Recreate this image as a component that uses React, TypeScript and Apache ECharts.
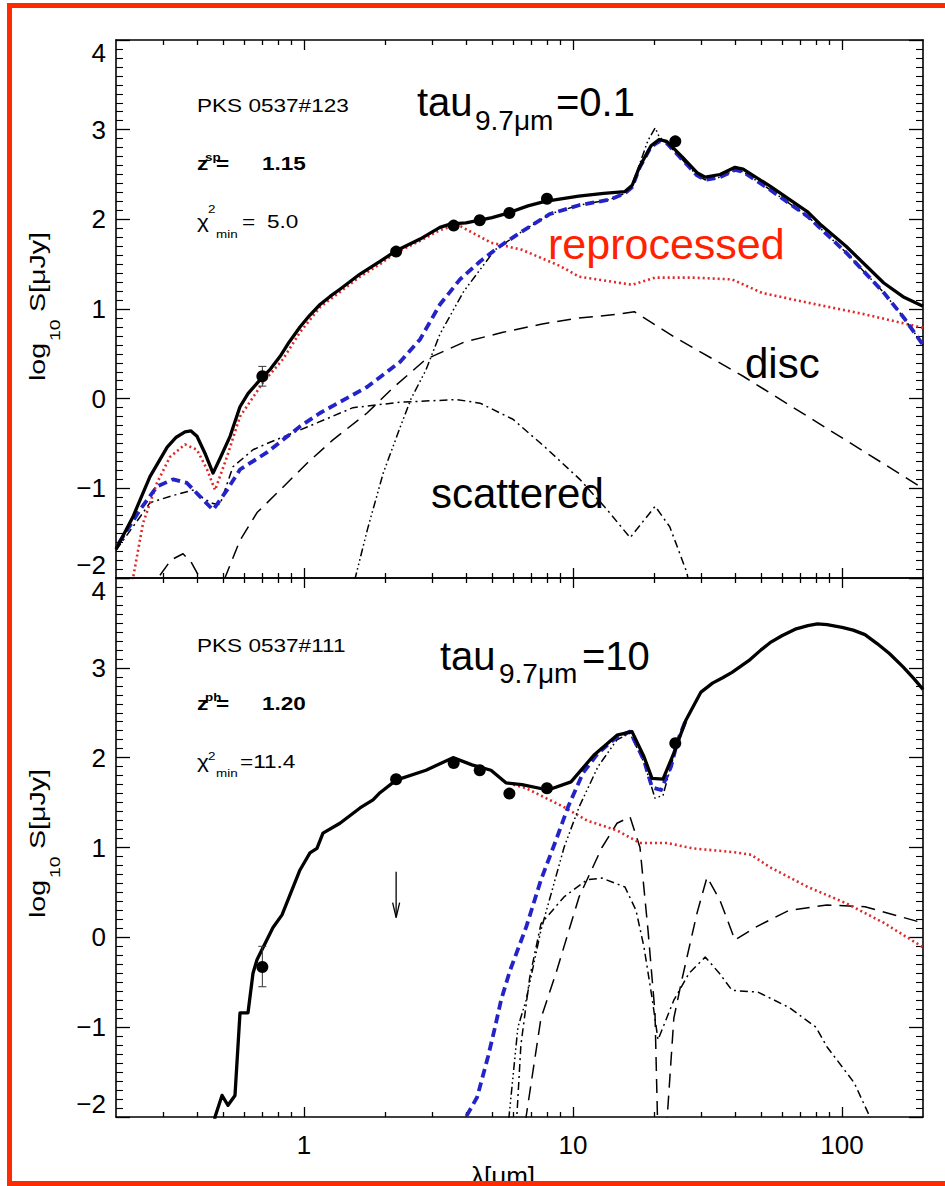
import React, { useEffect, useRef } from 'react';
import * as echarts from 'echarts';

// ---------- axis definitions ----------
const X_MIN = 0.2;
const X_MAX = 200;
const Y_MIN = -2;
const Y_MAX = 4;
const MAJOR_X_TICKS = [1, 10, 100];
const MINOR_X_TICKS = [0.3, 0.4, 0.5, 0.6, 0.7, 0.8, 0.9, 2, 3, 4, 5, 6, 7, 8, 9, 20, 30, 40, 50, 60, 70, 80, 90];

// ---------- upper panel (PKS 0537#123, tau=0.1) ----------
const upperTotal = [
  [0.2, -1.68], [0.231, -1.32], [0.2675, -0.87], [0.31, -0.54], [0.335, -0.43], [0.361, -0.37], [0.38, -0.36],
  [0.40, -0.42], [0.43, -0.62], [0.459, -0.83], [0.49, -0.65], [0.531, -0.42], [0.578, -0.09], [0.62, 0.06],
  [0.686, 0.21], [0.75, 0.33], [0.814, 0.47], [0.88, 0.63], [0.966, 0.8], [1.05, 0.93], [1.147, 1.05],
  [1.25, 1.14], [1.36, 1.22], [1.615, 1.39], [1.916, 1.53], [2.2, 1.65], [2.7, 1.78], [3.2, 1.91], [3.52, 1.95],
  [4.0, 1.96], [4.5, 1.99], [5.0, 2.02], [5.73, 2.07], [6.8, 2.15], [7.87, 2.2], [10.5, 2.26], [13.0, 2.29],
  [15.6, 2.31], [16.6, 2.38], [17.7, 2.59], [19.5, 2.82], [20.9, 2.89], [22.3, 2.87], [25.4, 2.7], [28.9, 2.52],
  [31.0, 2.47], [35.2, 2.5], [40.0, 2.58], [42.9, 2.56], [54.0, 2.37], [74.7, 2.08], [84, 1.93], [103.5, 1.7],
  [143, 1.29], [170, 1.13], [200, 1.03],
];
const upperReprocessed = [
  [0.225, -2.2], [0.252, -1.39], [0.284, -0.94], [0.3175, -0.65], [0.361, -0.51], [0.40, -0.57], [0.436, -0.79],
  [0.467, -1.02], [0.517, -0.65], [0.578, -0.2], [0.704, 0.18], [0.835, 0.44], [0.966, 0.74], [1.147, 1.02],
  [1.36, 1.19], [1.615, 1.36], [1.916, 1.5], [2.2, 1.63], [2.7, 1.76], [3.2, 1.88], [3.52, 1.92], [3.83, 1.92],
  [4.955, 1.74], [6.46, 1.66], [8.95, 1.48], [10.53, 1.36], [16.57, 1.27], [20.2, 1.35], [27.9, 1.35],
  [39.0, 1.33], [50.4, 1.18], [74.7, 1.07], [121.7, 0.94], [200, 0.79],
];
const upperTorus = [
  [0.205, -1.61], [0.2456, -1.24], [0.284, -0.98], [0.326, -0.9], [0.367, -0.94], [0.41, -1.09], [0.459, -1.24],
  [0.517, -1.02], [0.578, -0.79], [0.728, -0.6], [0.966, -0.31], [1.147, -0.16], [1.715, 0.13], [2.274, 0.41],
  [2.698, 0.66], [3.2, 1.05], [3.8, 1.33], [4.51, 1.53], [5.35, 1.7], [6.35, 1.85], [8.21, 2.06], [10.6, 2.16],
  [13.7, 2.22], [15.6, 2.29], [16.6, 2.36], [17.7, 2.58], [19.5, 2.81], [20.9, 2.87], [22.3, 2.85], [25.4, 2.67],
  [28.9, 2.49], [31.0, 2.44], [35.2, 2.47], [40.0, 2.55], [42.9, 2.53], [54.0, 2.33], [74.7, 2.03], [103.5, 1.63],
  [143.2, 1.18], [170, 0.9], [200, 0.6],
];
const upperHotDust = [
  [1.5, -2.3], [1.55, -2.0], [1.72, -1.46], [1.97, -0.83], [2.27, -0.33], [2.5, 0.0], [2.84, 0.32], [3.2, 0.72],
  [3.93, 1.2], [5.13, 1.66], [6.35, 1.85], [8.21, 2.06], [10.6, 2.16], [13.7, 2.22], [15.6, 2.29], [16.6, 2.38],
  [17.7, 2.62], [19.0, 2.88], [20.2, 3.02], [20.9, 2.92], [22.3, 2.85], [25.4, 2.67], [28.9, 2.49], [31.0, 2.44],
  [35.2, 2.47], [40.0, 2.55], [42.9, 2.53], [54.0, 2.33], [74.7, 2.03], [103.5, 1.63], [143.2, 1.18], [170, 0.9],
  [200, 0.6],
];
const upperScattered = [
  [0.2, -1.69], [0.2456, -1.32], [0.2675, -1.16], [0.3258, -1.08], [0.3866, -1.02], [0.4212, -1.11],
  [0.4589, -1.17], [0.4871, -1.18], [0.544, -0.76], [0.6461, -0.57], [0.7283, -0.5], [0.966, -0.35],
  [1.521, -0.1], [2.274, -0.04], [3.7, -0.01], [4.51, -0.05], [5.98, -0.23], [7.87, -0.54], [10.6, -0.9],
  [13.4, -1.24], [16.3, -1.55], [20.2, -1.2], [22.9, -1.43], [26.5, -1.94], [27.5, -2.2],
];
const upperDisc = [
  [0.275, -2.2], [0.2865, -2.0], [0.32, -1.8], [0.355, -1.73], [0.38, -1.82], [0.41, -2.0], [0.45, -2.5],
  [0.49, -2.2], [0.508, -2.0], [0.578, -1.58], [0.669, -1.27], [0.814, -1.02], [1.026, -0.72], [1.281, -0.46],
  [1.715, -0.16], [2.14, 0.12], [2.84, 0.44], [3.93, 0.63], [5.49, 0.74], [7.6, 0.83], [10.5, 0.9], [14.6, 0.94],
  [16.9, 0.97], [23.7, 0.69], [42.9, 0.25], [200, -1.0],
];
const upperPoints = [[0.7, 0.25], [2.2, 1.64], [3.6, 1.93], [4.5, 1.99], [5.8, 2.07], [8.0, 2.23], [24, 2.87]];
const upperErrors = [[0.7, 0.14, 0.36]];

// ---------- lower panel (PKS 0537#111, tau=10) ----------
const lowerTotal = [
  [0.455, -2.3], [0.4667, -2.0], [0.4956, -1.76], [0.5217, -1.87], [0.5538, -1.76], [0.5781, -0.84],
  [0.6191, -0.84], [0.6461, -0.4], [0.6686, -0.25], [0.7668, 0.11], [0.8283, 0.25], [0.966, 0.75], [1.052, 0.94],
  [1.117, 0.99], [1.176, 1.16], [1.36, 1.27], [1.615, 1.44], [1.805, 1.53], [1.916, 1.61], [2.2, 1.75],
  [2.84, 1.86], [3.58, 2.0], [4.21, 1.92], [4.955, 1.86], [5.63, 1.72], [6.46, 1.7], [8.07, 1.64], [9.83, 1.73],
  [11.97, 2.03], [14.57, 2.25], [16.57, 2.29], [18.36, 2.01], [19.66, 1.77], [21.6, 1.76], [23.7, 2.05],
  [26.3, 2.42], [29.9, 2.73], [33, 2.83], [36, 2.89], [39.0, 2.95], [45, 3.08], [50, 3.2], [54.0, 3.28],
  [60, 3.36], [67, 3.43], [74.7, 3.47], [81, 3.49], [88, 3.48], [100, 3.45], [110, 3.42], [121.7, 3.37],
  [135, 3.27], [150, 3.16], [168.6, 3.01], [185, 2.88], [200, 2.76],
];
const lowerReprocessed = [
  [6.0, 1.7], [6.69, 1.66], [9.26, 1.45], [11.27, 1.3], [14.57, 1.19], [17.74, 1.05], [22.35, 1.05], [27.9, 0.99],
  [39.0, 0.95], [45.9, 0.92], [54.0, 0.78], [74.7, 0.56], [103.5, 0.38], [143.2, 0.16], [200, -0.11],
];
const lowerTorus = [
  [3.95, -2.3], [4.0, -2.0], [4.4, -1.78], [4.83, -1.33], [5.13, -1.0], [5.4, -0.7], [5.83, -0.37], [6.69, 0.11],
  [7.6, 0.64], [8.64, 1.08], [9.58, 1.45], [10.89, 1.83], [12.38, 2.05], [14.57, 2.23], [16.29, 2.29],
  [18.36, 1.97], [19.66, 1.67], [21.23, 1.64], [23.13, 1.9], [24.56, 2.2], [26.3, 2.42],
];
const lowerHotDust = [
  [5.6, -2.3], [5.78, -2.0], [6.24, -1.0], [6.69, -0.7], [7.6, 0.08], [9.26, 1.0], [10.53, 1.45], [12.38, 1.9],
  [14.57, 2.2], [16.29, 2.27], [18.36, 1.95], [20.17, 1.55], [21.6, 1.58], [23.1, 1.9], [24.56, 2.2], [26.3, 2.42],
];
const lowerScattered = [
  [6.1, -2.3], [6.4, -1.2], [6.9, -0.45], [7.6, 0.15], [9.26, 0.45], [11.27, 0.64], [12.8, 0.66], [15.6, 0.56],
  [17.15, 0.3], [18.36, -0.11], [19.66, -0.67], [20.7, -1.14], [23.7, -0.7], [27.0, -0.4], [31.0, -0.22],
  [35.0, -0.4], [39.0, -0.59], [48.7, -0.61], [63.5, -0.78], [80, -1.0], [88, -1.22], [111, -1.62], [127, -2.0],
  [135, -2.3],
];
const lowerDisc = [
  [6.55, -2.3], [6.69, -2.0], [7.6, -0.9], [8.64, -0.4], [10.53, 0.45], [12.81, 1.0], [14.57, 1.27], [16.29, 1.34],
  [17.74, 1.0], [19.0, 0.08], [20.17, -0.84], [20.6, -2.0], [21.0, -2.6], [21.9, -2.4], [22.4, -2.0], [23.7, -0.9],
  [25.4, -0.47], [28.9, 0.27], [31.5, 0.67], [35.2, 0.41], [40.0, -0.03], [47.5, 0.11], [63.5, 0.3], [87.9, 0.36],
  [121.7, 0.34], [200, 0.16],
];
const lowerPoints = [[0.7, -0.33], [2.2, 1.76], [3.6, 1.94], [4.5, 1.86], [5.8, 1.6], [8.0, 1.66], [24, 2.16]];
const lowerErrors = [[0.7, -0.55, -0.1]];
const lowerLimits = [[2.2, 0.73, 0.22]];

// ---------- styling ----------
const FONT = 'Liberation Sans';
const BLACK = '#000';
const BLUE = '#2323c8';
const RED = '#e02828';
const LABEL_RED = '#ff2200';
const FRAME_RED = '#ff2a00';

const GRIDS = [
  { left: 116, top: 40, width: 807, height: 538 },
  { left: 116, top: 578, width: 807, height: 539 },
];

const LOG_MIN = Math.log10(X_MIN);
const LOG_MAX = Math.log10(X_MAX);

function xOverlay(grid: number, pos: string, ticks: number[], len: number, showLine: boolean, labels: boolean) {
  return {
    type: 'value', gridIndex: grid, position: pos, min: LOG_MIN, max: LOG_MAX,
    axisLine: { show: showLine, onZero: false, lineStyle: { color: BLACK, width: 1.6 } },
    axisTick: { show: true, inside: true, length: len, customValues: ticks.map((t) => Math.log10(t)), lineStyle: { color: BLACK, width: 1.3 } },
    axisLabel: {
      show: labels, customValues: MAJOR_X_TICKS.map((t) => Math.log10(t)), margin: 15,
      fontSize: 26, fontFamily: FONT, color: BLACK,
      formatter: (v: number) => String(Math.round(Math.pow(10, v))),
    },
    splitLine: { show: false },
  };
}

function yAx(grid: number, pos: string, labels: boolean) {
  return {
    type: 'value', gridIndex: grid, position: pos, min: Y_MIN, max: Y_MAX, interval: 1,
    axisLine: { show: true, onZero: false, lineStyle: { color: BLACK, width: 1.6 } },
    axisTick: { show: true, inside: true, length: 14, lineStyle: { color: BLACK, width: 1.3 } },
    minorTick: { show: true, splitNumber: 10, length: 7, lineStyle: { color: BLACK, width: 1.1 } },
    splitLine: { show: false }, minorSplitLine: { show: false },
    axisLabel: {
      show: labels, margin: 10, fontSize: 26, fontFamily: FONT, color: BLACK,
      formatter: (v: number) => (v < 0 ? '\u2212' + Math.abs(v) : String(v)),
      verticalAlignMinLabel: 'bottom', verticalAlignMaxLabel: 'top',
    },
  };
}

function lineSeries(data: number[][], xi: number, yi: number, color: string, width: number, type: any, z: number) {
  return {
    type: 'line', xAxisIndex: xi, yAxisIndex: yi, data, symbol: 'none', showSymbol: false, smooth: false,
    clip: true, silent: true, z, lineStyle: { color, width, type, cap: 'butt', join: 'round' },
  };
}

const DASH_DOT = [8, 4, 2, 4];
const DASH_3DOT = [8, 3, 1.6, 3, 1.6, 3, 1.6, 3];
const LONG_DASH = [14, 8];
const BLUE_DASH = [9, 5];
const DOTS = [2, 3];

function panelSeries(xi: number, yi: number, d: any) {
  return [
    lineSeries(d.disc, xi, yi, BLACK, 1.5, LONG_DASH, 2),
    lineSeries(d.scat, xi, yi, BLACK, 1.5, DASH_DOT, 2),
    lineSeries(d.rep, xi, yi, RED, 2.6, DOTS, 3),
    lineSeries(d.hot, xi, yi, BLACK, 1.5, DASH_3DOT, 3),
    lineSeries(d.torus, xi, yi, BLUE, 3.8, BLUE_DASH, 4),
    lineSeries(d.total, xi, yi, BLACK, 3.3, 'solid', 5),
    {
      type: 'custom', xAxisIndex: xi, yAxisIndex: yi, data: d.err, z: 6, silent: true,
      encode: { x: 0, y: [1, 2] },
      renderItem: (_p: any, api: any) => {
        const a = api.coord([api.value(0), api.value(1)]);
        const b = api.coord([api.value(0), api.value(2)]);
        const st = { stroke: '#333', lineWidth: 1 };
        return {
          type: 'group', children: [
            { type: 'line', shape: { x1: a[0], y1: a[1], x2: b[0], y2: b[1] }, style: st },
            { type: 'line', shape: { x1: a[0] - 4, y1: a[1], x2: a[0] + 4, y2: a[1] }, style: st },
            { type: 'line', shape: { x1: b[0] - 4, y1: b[1], x2: b[0] + 4, y2: b[1] }, style: st },
          ],
        };
      },
    },
    {
      type: 'scatter', xAxisIndex: xi, yAxisIndex: yi, data: d.pts, symbol: 'circle', symbolSize: 12, z: 7,
      silent: true, itemStyle: { color: BLACK, opacity: 1 },
    },
  ];
}

function limitSeries(xi: number, yi: number, data: number[][]) {
  return {
    type: 'custom', xAxisIndex: xi, yAxisIndex: yi, data, z: 7, silent: true,
    encode: { x: 0, y: [1, 2] },
    renderItem: (_p: any, api: any) => {
      const a = api.coord([api.value(0), api.value(1)]);
      const b = api.coord([api.value(0), api.value(2)]);
      const st = { stroke: BLACK, lineWidth: 1.3, fill: 'none' };
      return {
        type: 'group', children: [
          { type: 'line', shape: { x1: a[0], y1: a[1], x2: b[0], y2: b[1] }, style: st },
          { type: 'polyline', shape: { points: [[b[0] - 3.5, b[1] - 15], [b[0], b[1]], [b[0] + 3.5, b[1] - 15]] }, style: st },
        ],
      };
    },
  };
}

function txt(text: string, x: number, y: number, fs: number, o: any = {}) {
  return {
    type: 'text', x, y, z: 50, silent: true, rotation: o.rot || 0, scaleX: o.sx || 1,
    style: {
      text, fontSize: fs, fontFamily: FONT, fontWeight: o.bold ? 'bold' : 'normal',
      fill: o.color || BLACK, align: 'left', verticalAlign: 'middle',
    },
  };
}

function frameLine(x1: number, y1: number, x2: number, y2: number) {
  return {
    type: 'line', z: 200, silent: true, shape: { x1, y1, x2, y2 },
    style: { stroke: FRAME_RED, lineWidth: 5 },
  };
}

const SX = 1.22;
const graphics: any[] = [
  // upper panel annotations
  txt('PKS 0537#123', 197, 105.5, 18.5, { sx: SX }),
  txt('z', 197, 163.5, 18.5, { sx: SX, bold: true }),
  txt('sp', 205, 157, 11, { sx: SX, bold: true }),
  txt('=', 216, 163.5, 18.5, { sx: SX, bold: true }),
  txt('1.15', 262, 163.5, 18.5, { sx: SX, bold: true }),
  txt('\u03c7', 197, 221.5, 18.5, { sx: SX }),
  txt('2', 208, 209, 11, { sx: SX }),
  txt('min', 216, 234, 11, { sx: SX }),
  txt('=', 242, 221.5, 18.5, { sx: SX }),
  txt('5.0', 267, 221.5, 18.5, { sx: SX }),
  txt('tau', 417, 102, 40),
  txt('9.7\u03bcm', 475, 120, 28),
  txt('=0.1', 556, 102, 40),
  txt('reprocessed', 548, 244, 43, { color: LABEL_RED }),
  txt('disc', 745, 363, 42),
  txt('scattered', 431, 493, 42),
  // lower panel annotations
  txt('PKS 0537#111', 197, 645.5, 18.5, { sx: SX }),
  txt('z', 197, 703.5, 18.5, { sx: SX, bold: true }),
  txt('ph', 205, 697, 11, { sx: SX, bold: true }),
  txt('=', 216, 703.5, 18.5, { sx: SX, bold: true }),
  txt('1.20', 262, 703.5, 18.5, { sx: SX, bold: true }),
  txt('\u03c7', 197, 761.5, 18.5, { sx: SX }),
  txt('2', 208, 756, 11, { sx: SX }),
  txt('min', 216, 773, 11, { sx: SX }),
  txt('=11.4', 240, 761.5, 18.5, { sx: SX }),
  txt('tau', 440, 656, 40),
  txt('9.7\u03bcm', 499, 673, 28),
  txt('=10', 582, 656, 40),
  // y axis titles (rotated)
  txt('log', 37.5, 381, 22, { rot: Math.PI / 2, sx: 1.3 }),
  txt('10', 55, 341, 15, { rot: Math.PI / 2, sx: 1.3 }),
  txt('S[\u03bcJy]', 37.5, 312, 22, { rot: Math.PI / 2, sx: 1.3 }),
  txt('log', 37.5, 918, 22, { rot: Math.PI / 2, sx: 1.3 }),
  txt('10', 55, 878, 15, { rot: Math.PI / 2, sx: 1.3 }),
  txt('S[\u03bcJy]', 37.5, 849, 22, { rot: Math.PI / 2, sx: 1.3 }),
  // x axis title
  txt('\u03bb[\u03bcm]', 471, 1176, 26),
  // red frame (top, left, bottom)
  frameLine(7, 5.5, 945, 5.5),
  frameLine(9.5, 3, 9.5, 1186),
  frameLine(7, 1183.5, 945, 1183.5),
];

const option: any = {
  animation: false,
  backgroundColor: '#fff',
  grid: GRIDS,
  xAxis: [
    { type: 'log', logBase: 10, gridIndex: 0, min: X_MIN, max: X_MAX, show: false },
    xOverlay(0, 'bottom', MAJOR_X_TICKS, 10, true, false),
    xOverlay(0, 'bottom', MINOR_X_TICKS, 5, false, false),
    xOverlay(0, 'top', MAJOR_X_TICKS, 10, true, false),
    xOverlay(0, 'top', MINOR_X_TICKS, 5, false, false),
    { type: 'log', logBase: 10, gridIndex: 1, min: X_MIN, max: X_MAX, show: false },
    xOverlay(1, 'bottom', MAJOR_X_TICKS, 10, true, true),
    xOverlay(1, 'bottom', MINOR_X_TICKS, 5, false, false),
    xOverlay(1, 'top', MAJOR_X_TICKS, 10, true, false),
    xOverlay(1, 'top', MINOR_X_TICKS, 5, false, false),
  ],
  yAxis: [yAx(0, 'left', true), yAx(0, 'right', false), yAx(1, 'left', true), yAx(1, 'right', false)],
  series: [
    ...panelSeries(0, 0, {
      disc: upperDisc, scat: upperScattered, rep: upperReprocessed, hot: upperHotDust, torus: upperTorus,
      total: upperTotal, err: upperErrors, pts: upperPoints,
    }),
    ...panelSeries(5, 2, {
      disc: lowerDisc, scat: lowerScattered, rep: lowerReprocessed, hot: lowerHotDust, torus: lowerTorus,
      total: lowerTotal, err: lowerErrors, pts: lowerPoints,
    }),
    limitSeries(5, 2, lowerLimits),
  ],
  graphic: graphics,
};

export default function App() {
  const ref = useRef<HTMLDivElement>(null);
  useEffect(() => {
    if (!ref.current) return;
    const chart = echarts.init(ref.current, null, { renderer: 'svg' });
    chart.setOption(option);
    return () => chart.dispose();
  }, []);
  return (
    <div
      ref={ref}
      style={{ position: 'absolute', left: 0, top: 0, width: 945, height: 1186, background: '#fff' }}
    />
  );
}
